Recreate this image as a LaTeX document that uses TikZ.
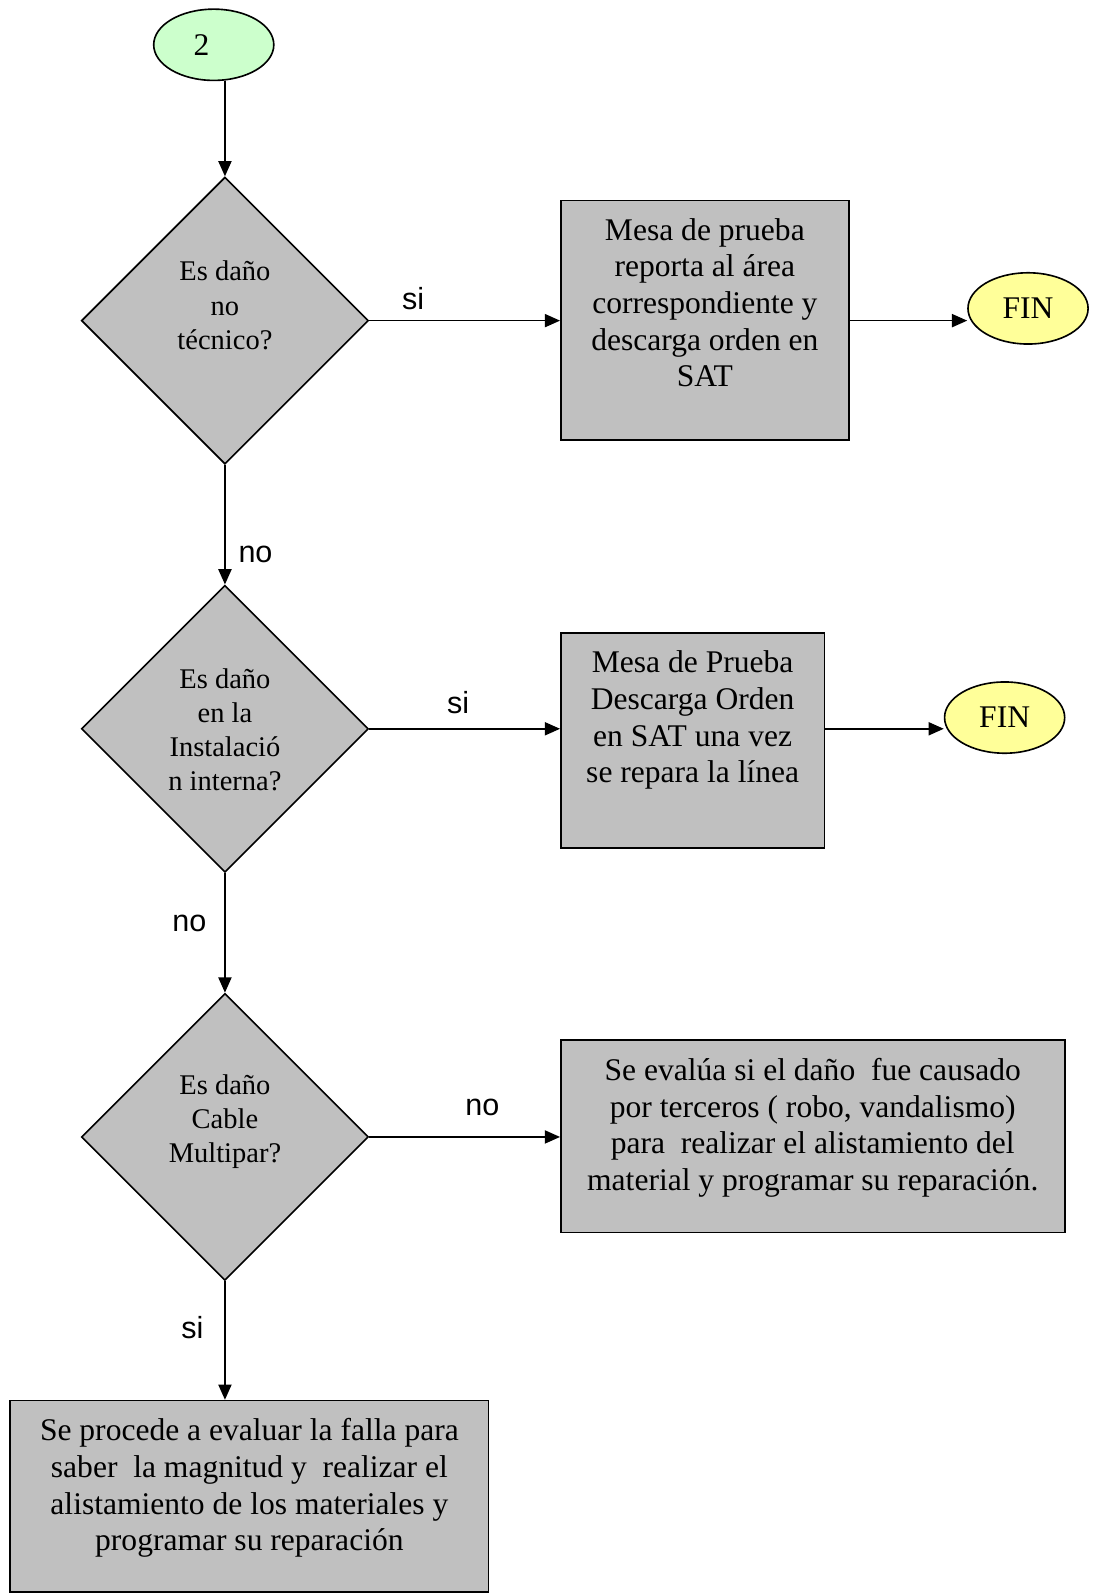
\documentclass[tikz,border=0pt]{standalone}
\usepackage{fontspec}
\setmainfont{Liberation Serif}
\setsansfont{Liberation Sans}
\usetikzlibrary{shapes.geometric,arrows.meta,positioning}
\definecolor{FlowGray}{RGB}{192,192,192}
\definecolor{FlowGreen}{RGB}{204,255,204}
\definecolor{FlowYellow}{RGB}{255,255,153}

\tikzset{
  flowline/.style={line width=0.7pt, -{Triangle[length=7.5pt,width=6.5pt]}},
  terminal/.style={draw, ellipse, line width=0.8pt, minimum width=59pt, minimum height=35pt, inner sep=0pt, font=\fontsize{15.5}{18}\selectfont},
  decision/.style={draw, diamond, aspect=1, fill=FlowGray, line width=0.8pt, minimum size=141pt, inner sep=0pt},
  procbox/.style={draw, rectangle, fill=FlowGray, line width=0.8pt},
  boxtext/.style={align=center, inner sep=0pt, font=\fontsize{15.5}{18}\selectfont},
  qtext/.style={align=center, inner sep=0pt, font=\fontsize{14}{16.75}\selectfont},
  branch/.style={font=\sffamily\fontsize{15}{18}\selectfont, inner sep=0pt}
}

\begin{document}
\begin{tikzpicture}[x=0.5pt, y=-0.5pt]
    \useasboundingbox (0,0) rectangle (1075,1568);

    % connector in and the three questions
    \node[terminal, fill=FlowGreen] (start) at (210,44) {2\kern12pt};
    \node[decision] (q1) at (221,315) {};
    \node[decision] (q2) at (221,716) {};
    \node[decision] (q3) at (221,1117) {};
    \node[qtext] (q1t) at (221,300) {Es daño\\no\\técnico?};
    \node[qtext] (q2t) at (221,717) {Es daño\\en la\\Instalació\\n interna?};
    \node[qtext] (q3t) at (221,1102) {Es daño\\Cable\\Multipar?};

    % process boxes
    \node[procbox, minimum width=141.5pt, minimum height=117.5pt] (b1) at (692.5,314.5) {};
    \node[boxtext, below=9pt of b1.north] (b1t) {Mesa de prueba\\reporta al área\\correspondiente y\\descarga orden en\\SAT};
    \node[procbox, minimum width=129.5pt, minimum height=105.5pt] (b2) at (680.5,727.5) {};
    \node[boxtext, below=9pt of b2.north] (b2t) {Mesa de Prueba\\Descarga Orden\\en SAT una vez\\se repara la línea};
    \node[procbox, minimum width=247.5pt, minimum height=94.5pt] (b3) at (798.5,1116.5) {};
    \node[boxtext, below=9pt of b3.north] (b3t) {Se evalúa si el daño\ \ fue causado\\por terceros ( robo, vandalismo)\\para\ \ realizar el alistamiento del\\material y programar su reparación.};
    \node[procbox, minimum width=235pt, minimum height=94pt] (b4) at (245,1470) {};
    \node[boxtext, below=9pt of b4.north] (b4t) {Se procede a evaluar la falla para\\saber\ \ la magnitud y\ \ realizar el\\alistamiento de los materiales y\\programar su reparación};

    % end points
    \node[terminal, fill=FlowYellow] (f1) at (1010,303) {FIN};
    \node[terminal, fill=FlowYellow] (f2) at (987,705) {FIN};

    % connectors
    \draw[flowline] (start.south -| q1.north) -- (q1.north);
    \draw[flowline] (q1.east) -- (q1.east -| b1.west);
    \draw[flowline] (q1.east -| b1.east) -- (q1.east -| f1.west);
    \draw[flowline] (q1.south) -- (q2.north);
    \draw[flowline] (q2.east) -- (q2.east -| b2.west);
    \draw[flowline] (q2.east -| b2.east) -- (q2.east -| f2.west);
    \draw[flowline] (q2.south) -- (q3.north);
    \draw[flowline] (q3.east) -- (q3.east -| b3.west);
    \draw[flowline] (q3.south) -- (q3.south |- b4.north);

    % branch labels
    \node[branch] (si1) at (406,293) {si};
    \node[branch] (no1) at (251,545) {no};
    \node[branch] (si2) at (450,690) {si};
    \node[branch] (no2) at (186,907) {no};
    \node[branch] (no3) at (474,1088) {no};
    \node[branch] (si3) at (189,1304) {si};
\end{tikzpicture}
\end{document}
